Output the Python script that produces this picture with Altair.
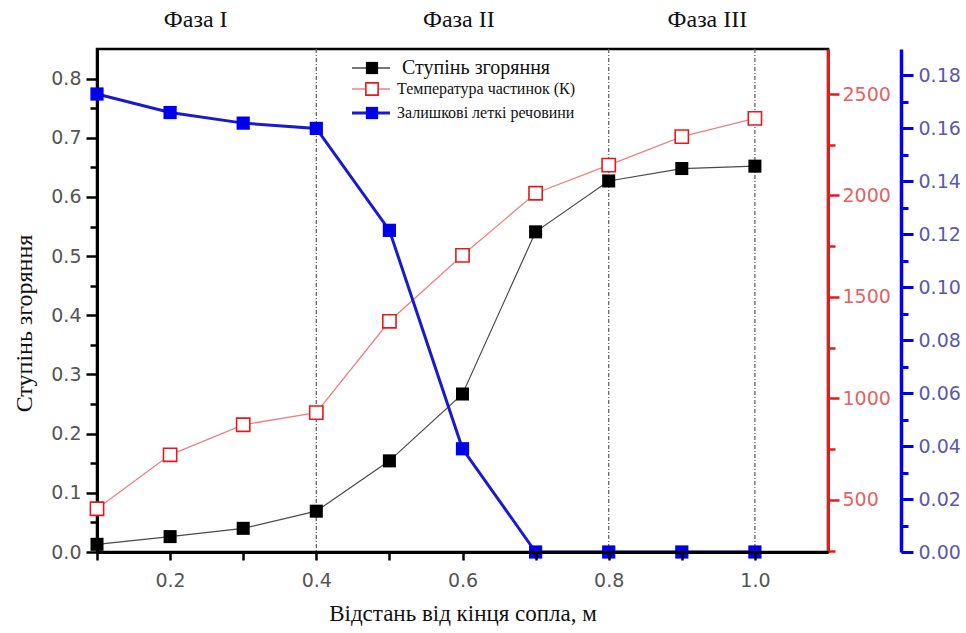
import altair as alt
import pandas as pd

# ---- data ----
dist = [0.1, 0.2, 0.3, 0.4, 0.5, 0.6, 0.7, 0.8, 0.9, 1.0]
burn_degree = [0.013, 0.026, 0.040, 0.069, 0.154, 0.267, 0.541, 0.627, 0.648, 0.652]
particle_temp = [456, 722, 870, 930, 1380, 1705, 2011, 2150, 2290, 2380]
residual_vol = [0.173, 0.166, 0.162, 0.160, 0.1215, 0.039, 0.0, 0.0, 0.0, 0.0]

phase_lines = [0.4, 0.8, 1.0]
phase_labels = ["Фаза I", "Фаза II", "Фаза III"]
phase_x = [0.235, 0.595, 0.935]

series_names = ["Ступінь згоряння", "Температура частинок (К)", "Залишкові леткі речовини"]
x_title = "Відстань від кінця сопла, м"
y_title = "Ступінь згоряння"

x_ticks = [0.1, 0.2, 0.3, 0.4, 0.5, 0.6, 0.7, 0.8, 0.9, 1.0]
left_ticks = [0.0, 0.05, 0.1, 0.15, 0.2, 0.25, 0.3, 0.35, 0.4, 0.45, 0.5, 0.55, 0.6, 0.65, 0.7, 0.75, 0.8]
red_ticks = [250, 500, 750, 1000, 1250, 1500, 1750, 2000, 2250, 2500]
blue_ticks = [0.0, 0.01, 0.02, 0.03, 0.04, 0.05, 0.06, 0.07, 0.08, 0.09, 0.10,
              0.11, 0.12, 0.13, 0.14, 0.15, 0.16, 0.17, 0.18]

df = pd.DataFrame({"x": dist, "deg": burn_degree, "temp": particle_temp, "vol": residual_vol})
vdf = pd.DataFrame({"v": phase_lines})
pdf = pd.DataFrame({"px": phase_x, "label": phase_labels})

W, H = 731, 503
SERIF = "Liberation Serif"
SANS = "DejaVu Sans"
BLACK_LINE = "#4a4a4a"
RED = "#e41a1c"
RED_LINE = "#f08080"
BLUE = "#0000ee"

x_scale = alt.Scale(domain=[0.1, 1.1], nice=False, zero=False)
x_axis = alt.Axis(
    title=x_title, values=x_ticks,
    labelExpr="round(datum.value*10) % 2 == 0 ? format(datum.value, '.1f') : ''",
    labelFont=SANS, labelFontSize=19, labelColor="#555555", labelPadding=11,
    labelOverlap=False, labelFlush=False,
    titleFont=SERIF, titleFontSize=23, titleFontWeight="normal", titleColor="#111111",
    titlePadding=12,
    domainColor="black", domainWidth=3, tickColor="black", tickWidth=2.5, tickSize=8,
    grid=False, zindex=1,
)


def X(field):
    return alt.X(field, type="quantitative", scale=x_scale, axis=x_axis)


left_axis = alt.Axis(
    title=y_title, orient="left", values=left_ticks,
    labelExpr="abs(datum.value*10 - round(datum.value*10)) < 0.001 ? format(datum.value, '.1f') : ''",
    labelFont=SANS, labelFontSize=19, labelColor="#555555", labelPadding=5,
    labelOverlap=False, labelFlush=False,
    titleFont=SERIF, titleFontSize=24, titleFontWeight="normal", titleColor="#111111",
    titlePadding=14, titleY=274,
    domainColor="black", domainWidth=3, tickColor="black", tickWidth=2.5,
    tickSize={"condition": {"test": "abs(datum.value*10 - round(datum.value*10)) < 0.001", "value": 11}, "value": 7},
    grid=False,
)

red_axis = alt.Axis(
    title=None, orient="right", values=red_ticks,
    labelExpr="datum.value % 500 == 0 ? format(datum.value, 'd') : ''",
    labelFont=SANS, labelFontSize=19, labelColor="#e06464", labelPadding=3,
    labelOverlap=False, labelFlush=False,
    domainColor=RED, domainWidth=3, tickColor=RED, tickWidth=2.5,
    tickSize={"condition": {"test": "datum.value % 500 == 0", "value": 11}, "value": 7},
    grid=False,
)

blue_axis = alt.Axis(
    title=None, orient="right", offset=73, values=blue_ticks,
    labelExpr="abs(datum.value*50 - round(datum.value*50)) < 0.001 ? format(datum.value, '.2f') : ''",
    labelFont=SANS, labelFontSize=19, labelColor="#5a5aa8", labelPadding=5,
    labelOverlap=False, labelFlush=False,
    domainColor=BLUE, domainWidth=3.5, tickColor=BLUE, tickWidth=3,
    tickSize={"condition": {"test": "abs(datum.value*50 - round(datum.value*50)) < 0.001", "value": 12}, "value": 7},
    grid=False,
)

base = alt.Chart(df)

# ---- left-axis group ----
y_left = alt.Y("deg:Q", scale=alt.Scale(domain=[0, 0.85], nice=False), axis=left_axis)
rules = alt.Chart(vdf).mark_rule(color="#666666", strokeWidth=1.3, strokeDash=[4, 2, 1, 2]).encode(x=X("v"))
phase_text = alt.Chart(pdf).mark_text(font=SERIF, fontSize=24, color="#111111", baseline="middle").encode(
    x=X("px"), y=alt.value(-29), text="label:N")
black_line = base.mark_line(color=BLACK_LINE, strokeWidth=1.2).encode(x=X("x"), y=y_left)
black_pts = base.mark_point(shape="square", filled=True, color="black", size=170, opacity=1).encode(x=X("x"), y=y_left)
left_group = alt.layer(rules, phase_text, black_line, black_pts)

# ---- red group ----
y_red = alt.Y("temp:Q", scale=alt.Scale(domain=[243, 2722], nice=False, zero=False), axis=red_axis)
red_line = base.mark_line(color=RED_LINE, strokeWidth=1.3).encode(x=X("x"), y=y_red)
red_pts = base.mark_point(shape="square", filled=False, fill="white", stroke=RED, strokeWidth=1.6,
                          size=175, opacity=1).encode(x=X("x"), y=y_red)
red_group = alt.layer(red_line, red_pts)

# ---- blue group ----
y_blue = alt.Y("vol:Q", scale=alt.Scale(domain=[0, 0.19], nice=False), axis=blue_axis)
blue_line = base.mark_line(color="#1a1acd", strokeWidth=3).encode(x=X("x"), y=y_blue)
blue_pts = base.mark_point(shape="square", filled=True, color=BLUE, size=175, opacity=1).encode(x=X("x"), y=y_blue)
blue_group = alt.layer(blue_line, blue_pts)

# ---- legend (drawn manually) ----
one = pd.DataFrame({"a": [0]})
leg_rows = [19, 40, 64]
leg_text_x = [305, 300, 300]
leg_font = [20, 16, 16]
leg_line_col = [BLACK_LINE, RED_LINE, "#1a1acd"]
leg_line_w = [1.5, 1.5, 3]
legend_layers = []
for i, name in enumerate(series_names):
    ly = leg_rows[i]
    legend_layers.append(alt.Chart(one).mark_rule(color=leg_line_col[i], strokeWidth=leg_line_w[i]).encode(
        x=alt.value(255), x2=alt.value(293), y=alt.value(ly)))
    if i == 0:
        sym = alt.Chart(one).mark_point(shape="square", filled=True, color="black", size=150, opacity=1)
    elif i == 1:
        sym = alt.Chart(one).mark_point(shape="square", filled=False, fill="white", stroke=RED,
                                        strokeWidth=1.6, size=150, opacity=1)
    else:
        sym = alt.Chart(one).mark_point(shape="square", filled=True, color=BLUE, size=150, opacity=1)
    legend_layers.append(sym.encode(x=alt.value(275), y=alt.value(ly)))
    legend_layers.append(alt.Chart(one).mark_text(font=SERIF, fontSize=leg_font[i], color="#111111",
                                                  align="left", baseline="middle", text=name).encode(
        x=alt.value(leg_text_x[i]), y=alt.value(ly)))
legend_group = alt.layer(*legend_layers)

chart = alt.layer(left_group, red_group, blue_group, legend_group).resolve_scale(
    y="independent"
).properties(
    width=W, height=H,
    autosize=alt.AutoSizeParams(type="none"),
    padding={"left": 97, "top": 49, "right": 138, "bottom": 81},
    background="white",
).configure_view(stroke="black", strokeWidth=2.5)

chart.save("out.html", embed_options={"renderer": "svg", "actions": False})
